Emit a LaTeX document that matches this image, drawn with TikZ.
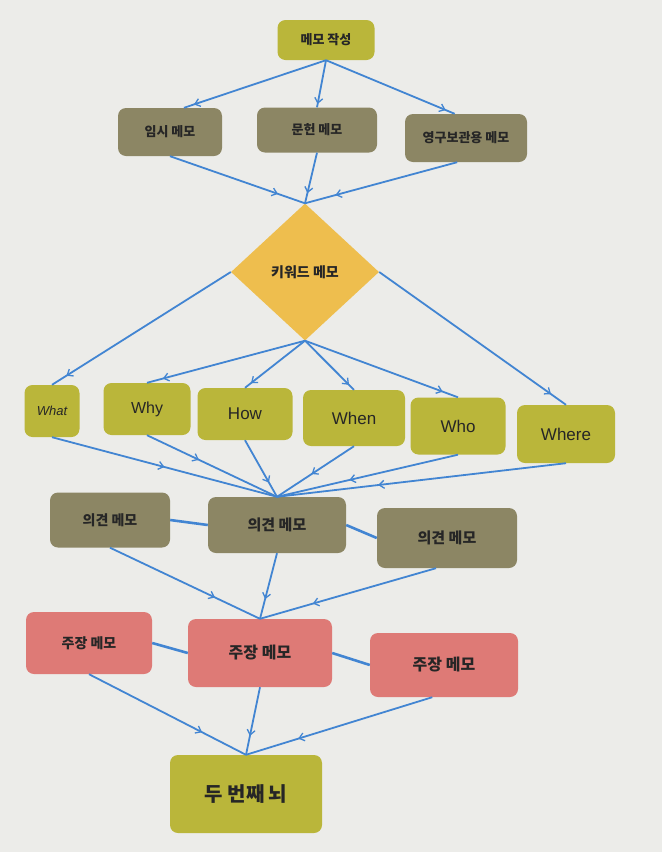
\documentclass[tikz,border=0pt]{standalone}
\usepackage{fontspec}
\setmainfont{Noto Sans CJK KR}
\newfontfamily\latin{Liberation Sans}
\usetikzlibrary{shapes.geometric,arrows.meta,decorations.markings}

\definecolor{pagegrey}{RGB}{236,236,233}
\definecolor{memogreen}{RGB}{186,182,58}
\definecolor{memoolive}{RGB}{140,134,100}
\definecolor{memogold}{RGB}{238,190,78}
\definecolor{memored}{RGB}{222,122,118}
\definecolor{linkblue}{RGB}{66,133,210}

\newcommand\fsz[1]{\fontsize{#1}{#1}\selectfont}

\tikzset{
  memo/.style={rounded corners=8pt, inner sep=0pt, align=center, text=black!85, font=\bfseries\fsz{13}},
  ask/.style={memo, fill=memogreen, font=\latin\fsz{17}},
  link/.style={draw=linkblue, line width=1.8pt},
  tie/.style={draw=linkblue, line width=2.6pt},
  flow/.style={link, postaction={decorate},
    decoration={markings, mark=at position #1 with {\arrow{Straight Barb[length=5pt,width=8pt,line width=1.3pt]}}}},
  flow/.default=0.8
}

\begin{document}
\begin{tikzpicture}[x=1pt,y=1pt,yscale=-1,xscale=1]
%page
\fill [pagegrey] (0,0) rectangle (662,852);
\useasboundingbox (0,0) rectangle (662,852);

%Shape: top memo
\node (write) [memo, fill=memogreen, minimum width=97, minimum height=40] at (326,40) {메모 작성};

%Shape: three kinds of memo
\node (temp) [memo, fill=memoolive, minimum width=104, minimum height=48] at (170,132) {임시 메모};
\node (lit) [memo, fill=memoolive, minimum width=120, minimum height=45] at (317,130) {문헌 메모};
\node (perm) [memo, fill=memoolive, minimum width=122, minimum height=48] at (466,138) {영구보관용 메모};

%Shape: Diamond
\node (kw) [diamond, fill=memogold, inner sep=0pt, minimum width=148, minimum height=137, text=black!85, font=\bfseries\fsz{14}] at (305,272) {키워드 메모};

%Shape: question boxes
\node (what) [ask, minimum width=55, minimum height=52, font=\latin\itshape\fsz{13}] at (52,411) {What};
\node (why) [ask, minimum width=87, minimum height=52, font=\latin\fsz{16}] at (147,409) {Why};
\node (how) [ask, minimum width=95, minimum height=52] at (245,414) {How};
\node (when) [ask, minimum width=102, minimum height=56] at (354,418) {When};
\node (who) [ask, minimum width=95, minimum height=57] at (458,426) {Who};
\node (where) [ask, minimum width=98, minimum height=58] at (566,434) {Where};

%Shape: opinion memos
\node (op1) [memo, fill=memoolive, minimum width=120, minimum height=55, font=\bfseries\fsz{14}] at (110,520) {의견 메모};
\node (op2) [memo, fill=memoolive, minimum width=138, minimum height=56, font=\bfseries\fsz{15}] at (277,525) {의견 메모};
\node (op3) [memo, fill=memoolive, minimum width=140, minimum height=60, font=\bfseries\fsz{15}] at (447,538) {의견 메모};

%Shape: claim memos
\node (cl1) [memo, fill=memored, minimum width=126, minimum height=62, font=\bfseries\fsz{14}] at (89,643) {주장 메모};
\node (cl2) [memo, fill=memored, minimum width=144, minimum height=68, font=\bfseries\fsz{16}] at (260,653) {주장 메모};
\node (cl3) [memo, fill=memored, minimum width=148, minimum height=64, font=\bfseries\fsz{16}] at (444,665) {주장 메모};

%Shape: final box
\node (brain) [memo, fill=memogreen, minimum width=152, minimum height=78, font=\bfseries\fsz{20}] at (246,794) {두 번째 뇌};

%Straight Lines
\draw [flow=0.93] (write.south) -- (temp.60);
\draw [flow=0.93] (write.south) -- (lit.north);
\draw [flow=0.93] (write.south) -- (perm.115);

\draw [flow] (temp.south) -- (kw.north);
\draw [flow] (lit.south) -- (kw.north);
\draw [flow] (perm.250) -- (kw.north);

\draw [flow=0.92] (kw.west) -- (what.north);
\draw [flow=0.92] (kw.east) -- (where.north);
\foreach \q in {why,how,when,who}
  \draw [flow=0.9] (kw.south) -- (\q.north);

\foreach \q/\p in {what/0.5,why/0.4,how/0.75,when/0.55,who/0.6,where/0.65}
  \draw [flow=\p] (\q.south) -- (op2.north);

\draw [tie] (op1.east) -- (op2.west);
\draw [tie] (op2.east) -- (op3.west);

\draw [flow=0.7] (op1.south) -- (cl2.north);
\draw [flow=0.7] (op2.south) -- (cl2.north);
\draw [flow=0.7] (op3.250) -- (cl2.north);

\draw [tie] (cl1.east) -- (cl2.west);
\draw [tie] (cl2.east) -- (cl3.west);

\draw [flow=0.72] (cl1.south) -- (brain.north);
\draw [flow=0.72] (cl2.south) -- (brain.north);
\draw [flow=0.72] (cl3.250) -- (brain.north);

\end{tikzpicture}
\end{document}
